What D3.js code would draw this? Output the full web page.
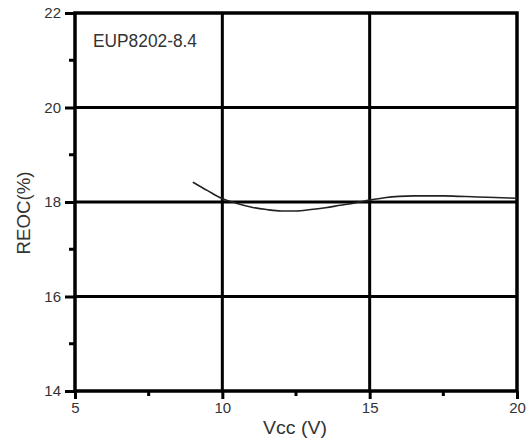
<!DOCTYPE html>
<html><head><meta charset="utf-8">
<script src="https://cdn.jsdelivr.net/npm/d3@7"></script>
<style>body{margin:0;background:#fff}svg{display:block}text{font-family:"Liberation Sans",Arial,sans-serif;fill:#333}</style>
</head><body>
<script>
const vcc = [9.0, 9.5, 10.0, 10.5, 11.0, 11.5, 12.0, 12.5, 13.0, 13.5, 14.0, 14.5, 15.0, 15.5, 16.0, 16.5, 17.0, 17.5, 18.0, 18.5, 19.0, 19.5, 20.0];
const reoc = [18.42, 18.24, 18.07, 17.97, 17.89, 17.84, 17.81, 17.81, 17.84, 17.88, 17.93, 17.98, 18.04, 18.09, 18.12, 18.13, 18.13, 18.13, 18.12, 18.11, 18.10, 18.09, 18.08];
const xTicks = [5, 10, 15, 20];
const yTicks = [14, 16, 18, 20, 22];
const xMinor = [7.5, 12.5, 17.5];
const yMinor = [15, 17, 19, 21];

const W = 532, H = 441;
const L = 75, R = 517, T = 13, B = 391;
const svg = d3.select("body").append("svg").attr("width", W).attr("height", H);
const x = d3.scaleLinear().domain([5, 20]).range([L, R]);
const y = d3.scaleLinear().domain([14, 22]).range([B, T]);

// grid
svg.append("g").selectAll("line").data(yTicks.slice(1, -1)).join("line")
  .attr("x1", L).attr("x2", R).attr("y1", d => y(d)).attr("y2", d => y(d))
  .attr("stroke", "#000").attr("stroke-width", 3);
svg.append("g").selectAll("line").data(xTicks.slice(1, -1)).join("line")
  .attr("y1", T).attr("y2", B).attr("x1", d => x(d)).attr("x2", d => x(d))
  .attr("stroke", "#000").attr("stroke-width", 3);

// axes
const xAxis = d3.axisBottom(x).tickValues(xTicks).tickSize(8).tickPadding(3).tickFormat(d3.format("d"));
const gx = svg.append("g").attr("transform", `translate(0,${B})`).call(xAxis);
const yAxis = d3.axisLeft(y).tickValues(yTicks).tickSize(10).tickPadding(4).tickFormat(d3.format("d"));
const gy = svg.append("g").attr("transform", `translate(${L},0)`).call(yAxis);
[gx, gy].forEach(g => {
  g.select(".domain").remove();
  g.selectAll(".tick line").attr("stroke", "#000").attr("stroke-width", 3);
  g.selectAll(".tick text").attr("font-size", 15).attr("font-family", "'Liberation Sans',Arial,sans-serif").style("fill", "#333");
});
svg.append("g").selectAll("line").data(xMinor).join("line")
  .attr("x1", d => x(d)).attr("x2", d => x(d)).attr("y1", B).attr("y2", B + 5)
  .attr("stroke", "#000").attr("stroke-width", 3);
svg.append("g").selectAll("line").data(yMinor).join("line")
  .attr("x1", L - 6).attr("x2", L).attr("y1", d => y(d)).attr("y2", d => y(d))
  .attr("stroke", "#000").attr("stroke-width", 3);

// frame
svg.append("rect").attr("x", L).attr("y", T).attr("width", R - L).attr("height", B - T)
  .attr("fill", "none").attr("stroke", "#000").attr("stroke-width", 3.5);

// curve
svg.append("path").datum(vcc.map((v, i) => [v, reoc[i]]))
  .attr("d", d3.line().x(d => x(d[0])).y(d => y(d[1])).curve(d3.curveMonotoneX))
  .attr("fill", "none").attr("stroke", "#222").attr("stroke-width", 1.6);

// labels
svg.append("text").attr("x", 93).attr("y", 47).attr("font-size", 18)
  .attr("textLength", 104).attr("lengthAdjust", "spacingAndGlyphs").style("fill", "#333").text("EUP8202-8.4");
svg.append("text").attr("transform", `translate(30,213) rotate(-90)`)
  .attr("text-anchor", "middle").attr("font-size", 19)
  .attr("textLength", 83).attr("lengthAdjust", "spacingAndGlyphs").style("fill", "#333").text("REOC(%)");
svg.append("text").attr("x", 295).attr("y", 434).attr("text-anchor", "middle").attr("font-size", 18)
  .attr("textLength", 64).attr("lengthAdjust", "spacingAndGlyphs").style("fill", "#333").text("Vcc (V)");
</script>
</body></html>
